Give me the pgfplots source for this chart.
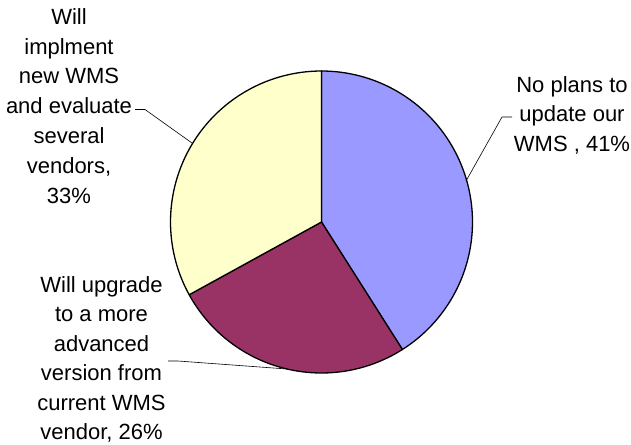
\documentclass[border=0pt]{standalone}
\usepackage{pgfplots}
\pgfplotsset{compat=1.18}
\usepackage{pgfplotstable}
\usepackage{fontspec}
\setmainfont{Liberation Sans}
\definecolor{cA}{HTML}{9999FF}
\definecolor{cB}{HTML}{993366}
\definecolor{cC}{HTML}{FFFFCC}
\newcommand\lbl{\fontsize{22bp}{29.5bp}\selectfont}
\pgfplotstableread{
slice value
noplans 41
upgrade 26
implement 33
}\piedata
\begin{document}
\pgfplotstablegetelem{0}{value}\of\piedata \edef\va{\pgfplotsretval}%
\pgfplotstablegetelem{1}{value}\of\piedata \edef\vb{\pgfplotsretval}%
\pgfplotstablegetelem{2}{value}\of\piedata \edef\vc{\pgfplotsretval}%
\pgfmathsetmacro\aA{90}%
\pgfmathsetmacro\aB{90-3.6*\va}%
\pgfmathsetmacro\aC{\aB-3.6*\vb}%
\pgfmathsetmacro\aD{\aC-3.6*\vc}%
\begin{tikzpicture}
\begin{axis}[hide axis, scale only axis, width=631bp, height=445bp,
  xmin=0, xmax=631, ymin=0, ymax=445, y dir=reverse, clip=false]
\path (axis cs:0,0) rectangle (axis cs:631,445);
% slices
\addplot[fill=cA, draw=black, line width=1.3bp, line join=round, domain=\aB:\aA, samples=90, variable=\t]
  ({321.5+151*cos(\t)},{222-151*sin(\t)}) -- (axis cs:321.5,222) -- cycle;
\addplot[fill=cB, draw=black, line width=1.3bp, line join=round, domain=\aC:\aB, samples=60, variable=\t]
  ({321.5+151*cos(\t)},{222-151*sin(\t)}) -- (axis cs:321.5,222) -- cycle;
\addplot[fill=cC, draw=black, line width=1.3bp, line join=round, domain=\aD:\aC, samples=80, variable=\t]
  ({321.5+151*cos(\t)},{222-151*sin(\t)}) -- (axis cs:321.5,222) -- cycle;
% leader lines
\addplot[black, line width=0.6bp] coordinates {(512,117) (502,117) (466,181)};
\addplot[black, line width=0.6bp] coordinates {(135,109.5) (145,109.5) (192,143)};
\addplot[black, line width=0.6bp] coordinates {(168,361) (178,361) (287,369)};
% labels
\node[anchor=base, font=\lbl, inner sep=0pt] at (axis cs:572,92) {No plans to};
\node[anchor=base, font=\lbl, inner sep=0pt] at (axis cs:572,121.5) {update our};
\node[anchor=base, font=\lbl, inner sep=0pt] at (axis cs:572,151) {WMS , 41\%};
\node[anchor=base, font=\lbl, inner sep=0pt] at (axis cs:69,24.5) {Will};
\node[anchor=base, font=\lbl, inner sep=0pt] at (axis cs:69,54.2) {implment};
\node[anchor=base, font=\lbl, inner sep=0pt] at (axis cs:69,84) {new WMS};
\node[anchor=base, font=\lbl, inner sep=0pt] at (axis cs:69,113.7) {and evaluate};
\node[anchor=base, font=\lbl, inner sep=0pt] at (axis cs:69,143.5) {several};
\node[anchor=base, font=\lbl, inner sep=0pt] at (axis cs:69,173.2) {vendors,};
\node[anchor=base, font=\lbl, inner sep=0pt] at (axis cs:69,203) {33\%};
\node[anchor=base, font=\lbl, inner sep=0pt] at (axis cs:101.5,292) {Will upgrade};
\node[anchor=base, font=\lbl, inner sep=0pt] at (axis cs:101.5,321.5) {to a more};
\node[anchor=base, font=\lbl, inner sep=0pt] at (axis cs:101.5,351) {advanced};
\node[anchor=base, font=\lbl, inner sep=0pt] at (axis cs:101.5,380.5) {version from};
\node[anchor=base, font=\lbl, inner sep=0pt] at (axis cs:101.5,410) {current WMS};
\node[anchor=base, font=\lbl, inner sep=0pt] at (axis cs:101.5,439.5) {vendor, 26\%};
\end{axis}
\end{tikzpicture}
\end{document}
